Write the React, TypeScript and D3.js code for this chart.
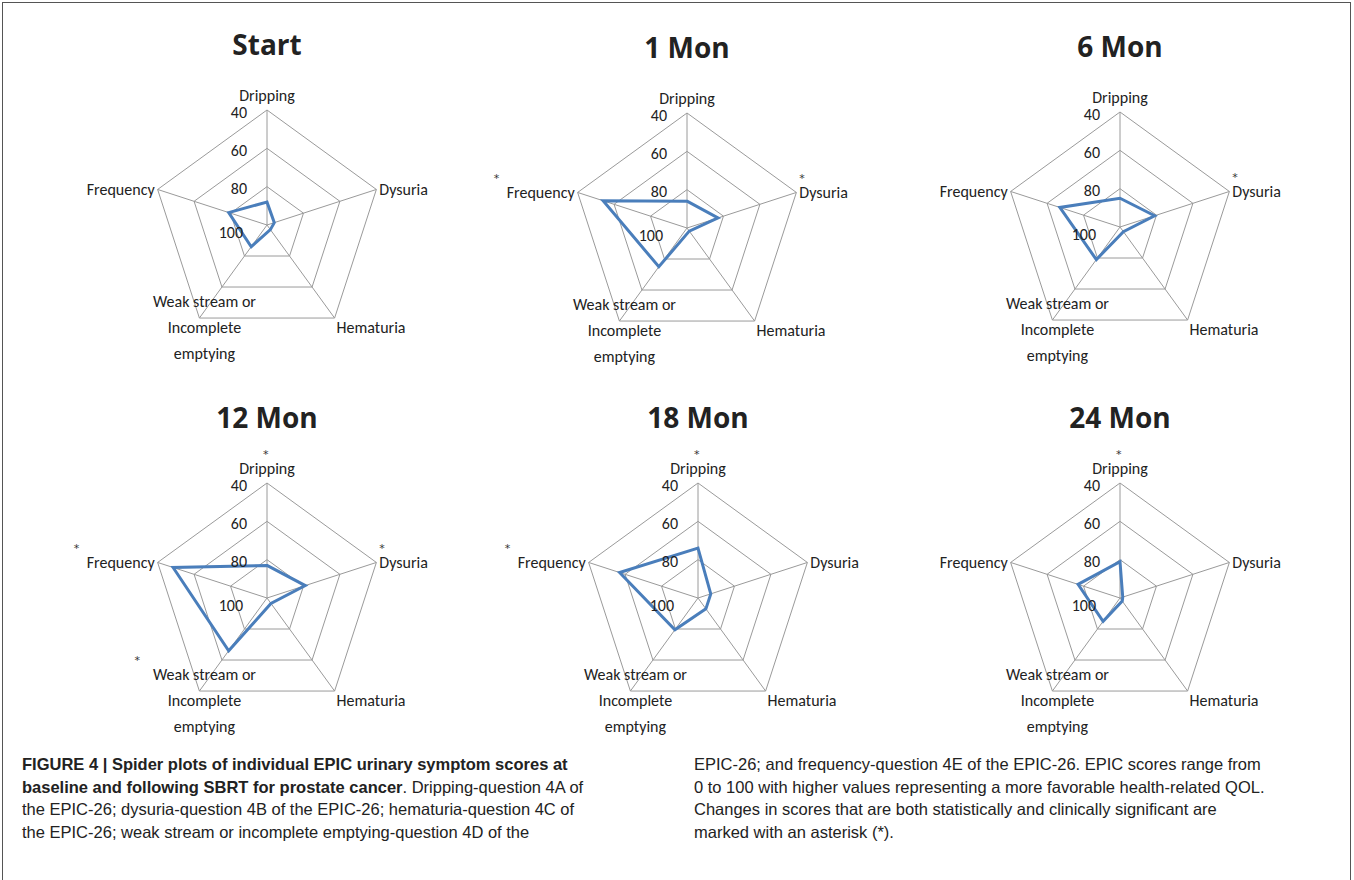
import * as d3 from "d3";

const axes = ["Dripping", "Dysuria", "Hematuria", "Weak", "Frequency"];
const ticks = [40, 60, 80, 100];
const panels = ["Start", "1 Mon", "6 Mon", "12 Mon", "18 Mon", "24 Mon"];
// values in axis order: Dripping, Dysuria, Hematuria, Weak stream, Frequency
const startVals = [88, 96, 97, 86, 79];
const mon1Vals = [86, 83, 98, 75, 54];
const mon6Vals = [85, 81, 97, 79, 67];
const mon12Vals = [83, 79, 96.5, 66, 48.5];
const mon18Vals = [74, 93, 93, 79.5, 57];
const mon24Vals = [81, 98.5, 98, 85, 77];
const seriesVals = [startVals, mon1Vals, mon6Vals, mon12Vals, mon18Vals, mon24Vals];
// significant changes (*)
const starred = [[], ["Frequency", "Dysuria"], ["Dysuria"], ["Dripping", "Frequency", "Dysuria", "Weak"], ["Dripping", "Frequency"], ["Dripping"]];
const centers: [number, number][] = [[267, 225], [687, 228], [1120, 227], [267, 598], [698, 598], [1120, 598]];

const captionLeft = [
  [["FIGURE 4 | Spider plots of individual EPIC urinary symptom scores at", true]],
  [["baseline and following SBRT for prostate cancer", true], [". Dripping-question 4A of", false]],
  [["the EPIC-26; dysuria-question 4B of the EPIC-26; hematuria-question 4C of", false]],
  [["the EPIC-26; weak stream or incomplete emptying-question 4D of the", false]],
] as [string, boolean][][];
const captionRight = [
  "EPIC-26; and frequency-question 4E of the EPIC-26. EPIC scores range from",
  "0 to 100 with higher values representing a more favorable health-related QOL.",
  "Changes in scores that are both statistically and clinically significant are",
  "marked with an asterisk (*).",
];

const R = 115;
const r = d3.scaleLinear().domain([100, 40]).range([0, R]);
const ang = (i: number) => (i * 2 * Math.PI) / 5;
const pt = (i: number, v: number): [number, number] => [Math.sin(ang(i)) * r(v), -Math.cos(ang(i)) * r(v)];
const labelFont = "Carlito, 'Open Sans', 'Liberation Sans', sans-serif";
const grid = "#9a9a9a";

function Star({ x, y }: { x: number; y: number }) {
  return <text x={x} y={y} fontFamily="'DejaVu Sans', sans-serif" fontSize="11px" fill="#333">*</text>;
}

function Radar({ idx }: { idx: number }) {
  const [cx, cy] = centers[idx];
  const vals = seriesVals[idx];
  const stars = starred[idx];
  const line = d3.line<number>().x((v, i) => pt(i, v)[0]).y((v, i) => pt(i, v)[1]).curve(d3.curveLinearClosed);
  const v = (i: number) => pt(i, 40);
  const star = (n: string) => stars.includes(n);
  return (
    <g transform={`translate(${cx},${cy})`} fontFamily={labelFont} fontSize="16px" fill="#222">
      <text y={-170} textAnchor="middle" fontFamily="'Open Sans', sans-serif" fontWeight="bold" fontSize="28px">{panels[idx]}</text>
      {ticks.slice(0, 3).map((t) => (
        <path key={t} d={line(axes.map(() => t)) ?? ""} fill="none" stroke={grid} />
      ))}
      {axes.map((a, i) => (
        <line key={a} x1={0} y1={0} x2={v(i)[0]} y2={v(i)[1]} stroke={grid} />
      ))}
      <path d={line(vals) ?? ""} fill="none" stroke="#4a7ebb" strokeWidth={3} strokeLinejoin="miter" />
      {ticks.map((t) => (
        <text key={t} x={t === 100 ? -24 : -20} y={t === 100 ? 7 : -r(t) + 2} textAnchor="end" dominantBaseline="central">{t}</text>
      ))}
      <text x={0} y={-130} textAnchor="middle" dominantBaseline="central">Dripping</text>
      {star("Dripping") && <Star x={-4} y={-140} />}
      <text x={v(1)[0] + 3} y={v(1)[1]} dominantBaseline="central">Dysuria</text>
      {star("Dysuria") && <Star x={v(1)[0] + 3} y={v(1)[1] - 10} />}
      <text x={v(2)[0] + 2} y={v(2)[1] + 9} dominantBaseline="central">Hematuria</text>
      <text x={v(4)[0] - 3} y={v(4)[1]} textAnchor="end" dominantBaseline="central">Frequency</text>
      {star("Frequency") && <Star x={v(4)[0] - 84} y={v(4)[1] - 10} />}
      {["Weak stream or", "Incomplete", "emptying"].map((s, k) => (
        <text key={s} x={v(3)[0] + 5} y={v(3)[1] - 17 + k * 26} textAnchor="middle" dominantBaseline="central">{s}</text>
      ))}
      {star("Weak") && <Star x={v(3)[0] - 65} y={v(3)[1] - 27} />}
    </g>
  );
}

export default function App() {
  return (
    <svg width={1354} height={880} style={{ position: "fixed", left: 0, top: 0 }}>
      <rect width={1354} height={880} fill="#fff" />
      <rect x={2.5} y={2.5} width={1348} height={900} fill="none" stroke="#555" />
      {panels.map((p, i) => <Radar key={p} idx={i} />)}
      <g fontFamily="'Liberation Sans Narrow', 'Liberation Sans', sans-serif" fontSize="16.5px" fill="#222">
        {captionLeft.map((ln, i) => (
          <text key={i} x={22} y={770 + i * 22.5}>
            {ln.map(([s, b], j) => <tspan key={j} fontWeight={b ? "bold" : "normal"}>{s}</tspan>)}
          </text>
        ))}
        {captionRight.map((s, i) => (
          <text key={i} x={694} y={770 + i * 22.5}>{s}</text>
        ))}
      </g>
    </svg>
  );
}
